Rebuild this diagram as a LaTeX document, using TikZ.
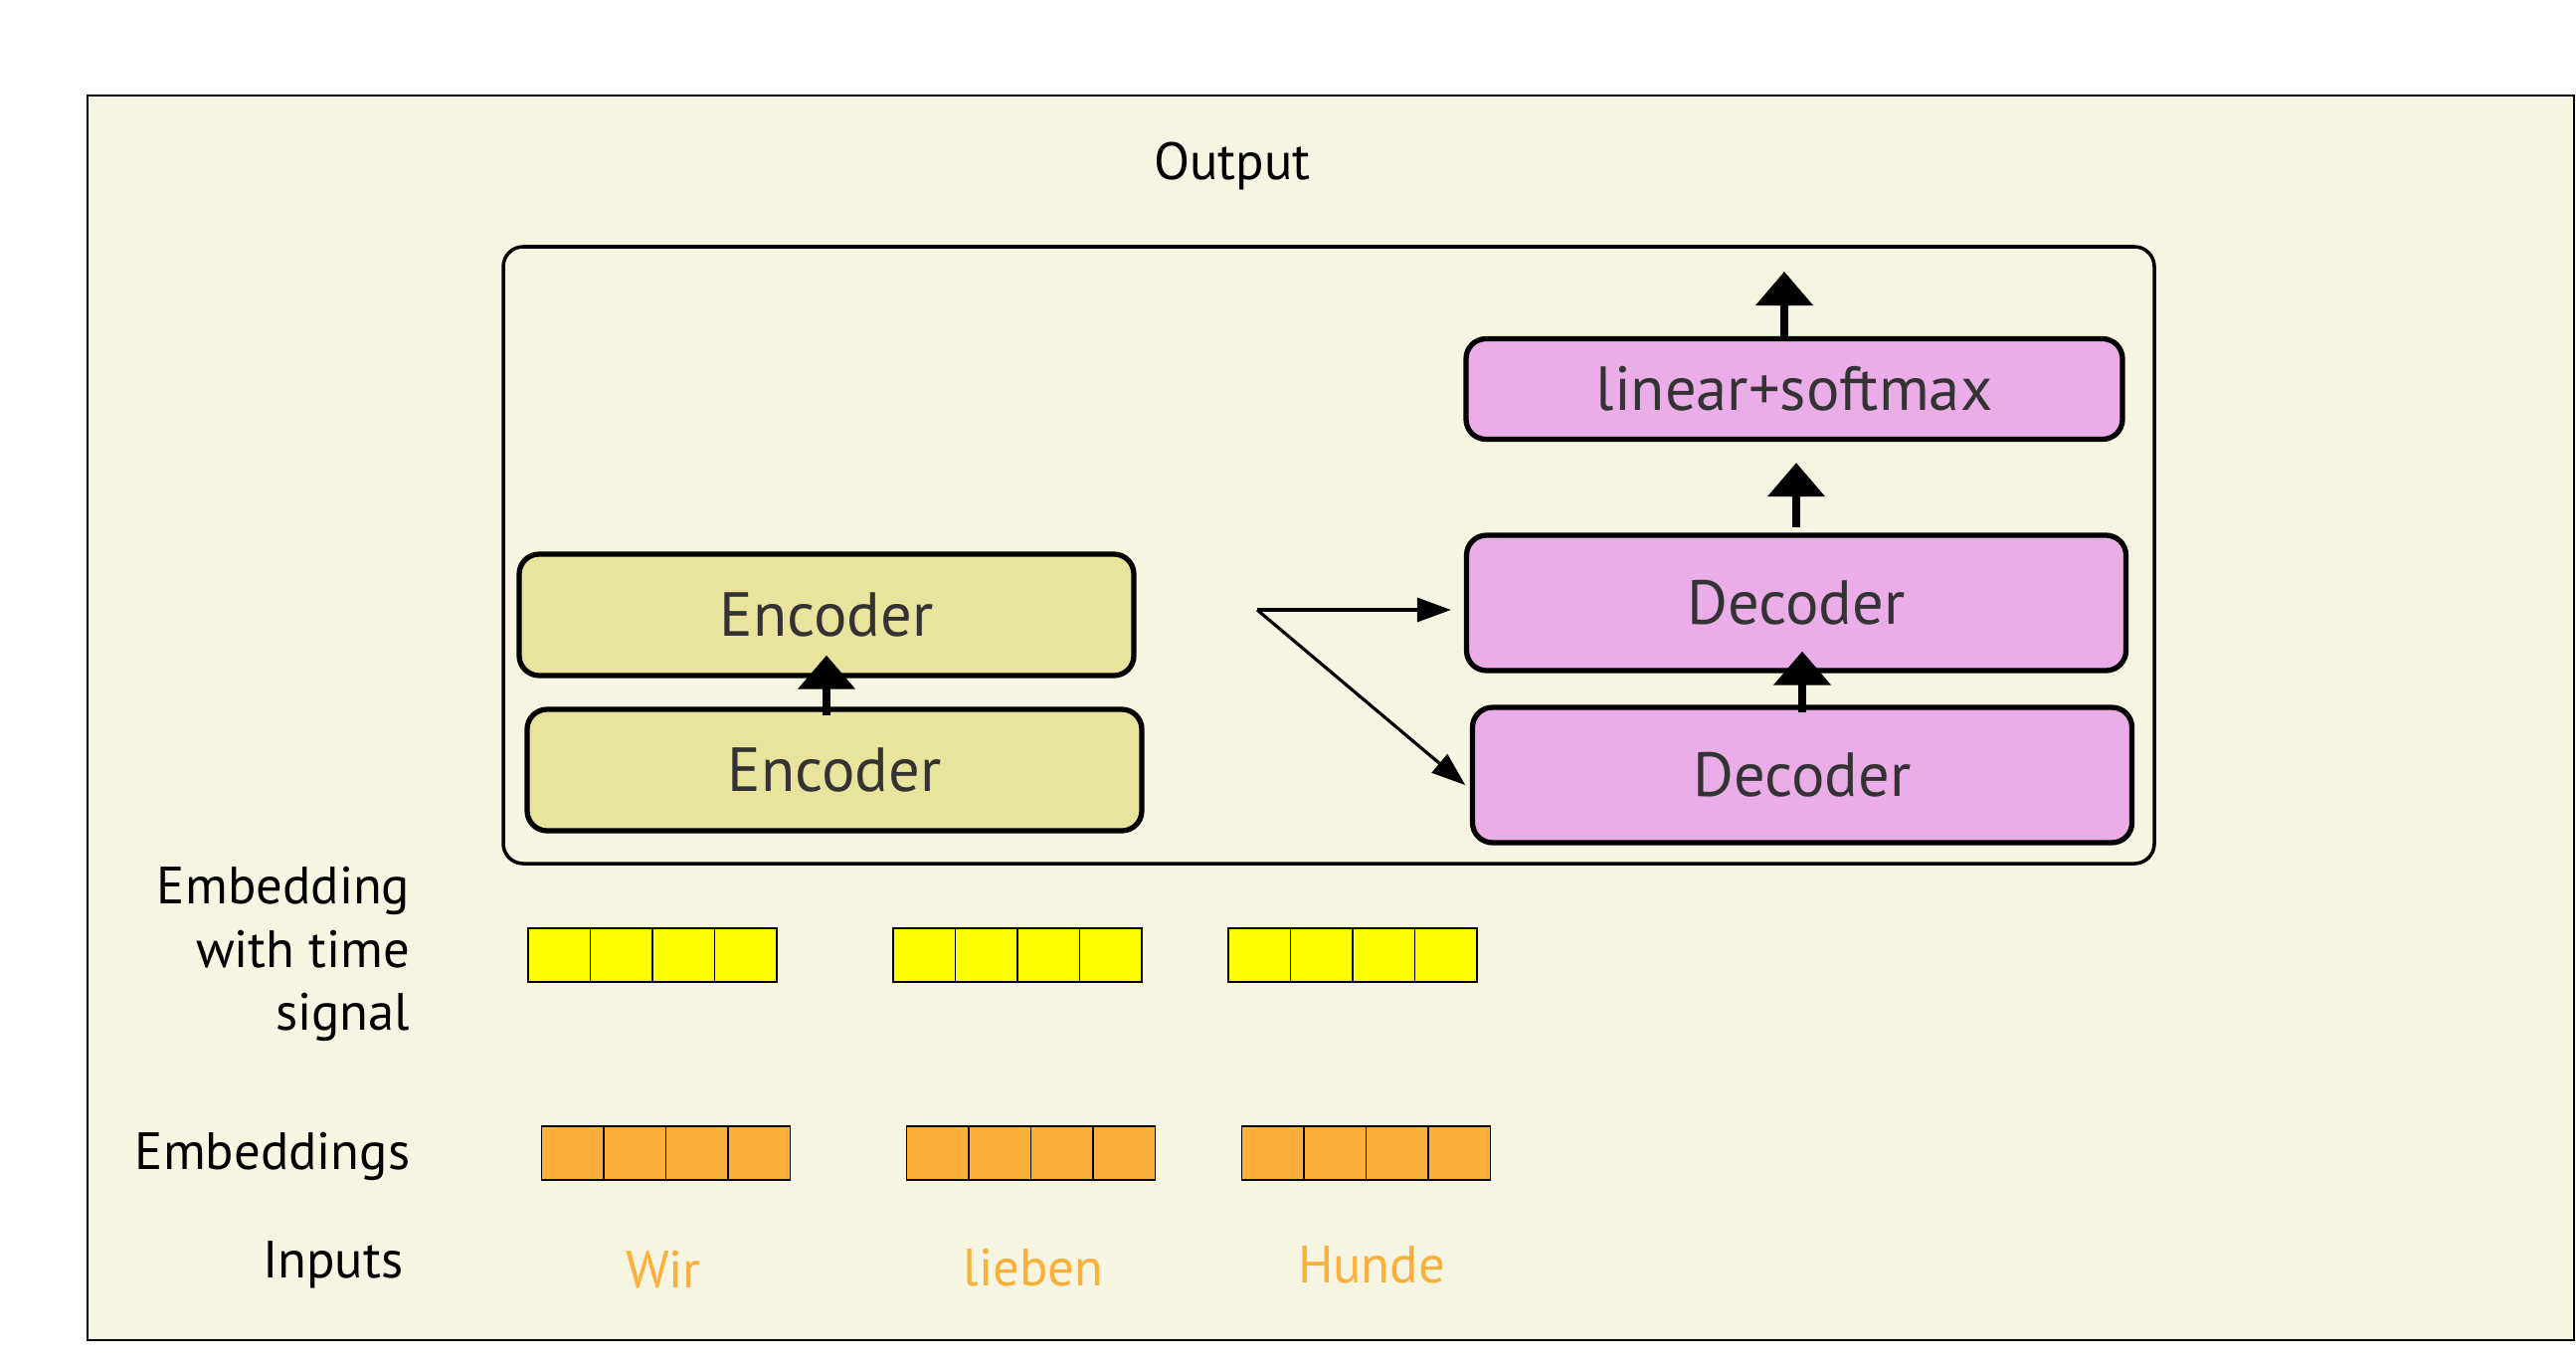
\documentclass[tikz,border=0pt]{standalone}
\usepackage{fontspec}
\setmainfont{PT Sans}
\usepackage{tikz}
\usetikzlibrary{arrows.meta}
\usetikzlibrary{positioning}

\definecolor{cream}{HTML}{F6F5E1}
\definecolor{encfill}{HTML}{E8E49E}
\definecolor{decfill}{HTML}{EAADE8}
\definecolor{timeyellow}{HTML}{FFFF00}
\definecolor{emborange}{HTML}{FBB03B}
\definecolor{boxtext}{HTML}{333333}

\tikzset{
  netbox/.style={draw, line width=1.5pt, rounded corners=0.2cm, text=boxtext,
    font=\fontsize{17.8}{21}\selectfont},
  encbox/.style={netbox, fill=encfill, minimum width=6.18cm, minimum height=1.22cm},
  decbox/.style={netbox, fill=decfill, minimum width=6.63cm, minimum height=1.36cm},
  cell/.style={draw, line width=0.5pt, minimum width=0.625cm, minimum height=0.54cm,
    inner sep=0pt, anchor=south west},
  sidetext/.style={font=\fontsize{15}{18}\selectfont, align=right, anchor=east, inner xsep=0pt},
  wordtext/.style={font=\fontsize{15}{18}\selectfont, text=emborange},
  bigarrow/.style={line width=2.3pt, -{Triangle[width=0.56cm,length=0.34cm]}},
  thinarrow/.style={line width=0.9pt, -{Triangle[width=0.24cm,length=0.34cm]}}
}

\begin{document}
\begin{tikzpicture}
                  % Page and background panel
                  \useasboundingbox (0,0) rectangle (25.9,13.7);
                  \fill[white] (0,0) rectangle (25.9,13.7);
                  \draw[fill=cream, line width=0.6pt] (0.876,0.23) rectangle (25.88,12.74);

                  % Title
                  \node[font=\fontsize{15}{18}\selectfont] (output) at (12.39,12.03) {Output};

                  % Model frame
                  \draw[line width=1pt, rounded corners=0.2cm] (5.06,5.02) rectangle (21.66,11.22);

                  % Encoder stack
                  \node[encbox] (encA) at (8.39,5.96) {Encoder};
                  \node[encbox] (encB) at (8.31,7.52) {Encoder};

                  % Decoder stack
                  \node[decbox] (decA) at (18.12,5.91) {Decoder};
                  \node[decbox] (decB) at (18.06,7.64) {Decoder};
                  \node[decbox, minimum width=6.6cm, minimum height=1.01cm] (lin) at (18.04,9.79) {linear+softmax};

                  % Thick arrows through the stacks
                  \coordinate (top) at (17.94,10.97);
                  \draw[bigarrow] ([yshift=-0.09cm]encB.south |- encA.north) -- ([yshift=0.23cm]encB.south);
                  \draw[bigarrow] ([yshift=-0.08cm]decA.north) -- ([yshift=0.22cm]decA.north |- decB.south);
                  \draw[bigarrow] ([yshift=0.05cm]decB.north) -- ([yshift=-0.21cm]decB.north |- lin.south);
                  \draw[bigarrow] (top |- lin.north) -- (top);

                  % Encoder output to the decoders
                  \coordinate (split) at (12.64,7.57);
                  \draw[thinarrow, shorten >=0.13cm] (split) -- (split -| decB.west);
                  \draw[thinarrow, shorten >=0.06cm] (split) -- ([yshift=-0.14cm]decA.west);

                  % Row labels
                  \node[sidetext] (timelabel) at (4.13,4.11) {Embedding\\with time\\signal};
                  \node[sidetext] (emblabel) at (4.13,2.08) {Embeddings};
                  \node[sidetext] (inlabel) at (4.06,0.99) {Inputs};

                  % Embedding vectors
                  \foreach \x/\w in {5.30/wir, 8.97/lieben, 12.34/hunde}{
                    \foreach \i in {1,...,4}{
                      \node[cell, fill=timeyellow] (time-\w-\i) at ({\x+0.625*(\i-1)},3.82) {};
                      \node[cell, fill=emborange] (emb-\w-\i) at ({\x+0.135+0.625*(\i-1)},1.83) {};
                    }
                  }

                  % Input words
                  \node[wordtext] (wir) at (6.67,0.94) {Wir};
                  \node[wordtext] (lieben) at (10.39,0.96) {lieben};
                  \node[wordtext] (hunde) at (13.79,0.99) {Hunde};

              \end{tikzpicture}
\end{document}
